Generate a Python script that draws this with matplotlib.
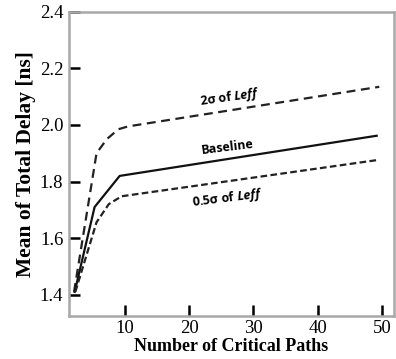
import matplotlib
matplotlib.use('Agg')
import matplotlib.pyplot as plt

# values
paths_base = [2.2, 5.3, 9.2, 49.2]
delay_base = [1.41, 1.71, 1.82, 1.962]

paths_2s = [2.1, 5.6, 7.2, 9.0, 10.5, 49.6]
delay_2s = [1.41, 1.90, 1.95, 1.985, 1.995, 2.135]

paths_05s = [2.3, 5.6, 7.5, 9.5, 49.6]
delay_05s = [1.41, 1.656, 1.72, 1.748, 1.877]

xticks = [10, 20, 30, 40, 50]
yticks = [1.4, 1.6, 1.8, 2.0, 2.2, 2.4]

plt.rcParams['mathtext.fontset'] = 'custom'
plt.rcParams['mathtext.it'] = 'Open Sans:italic:bold'
plt.rcParams['mathtext.rm'] = 'Open Sans:bold'

fig = plt.figure(figsize=(3.96, 3.59), dpi=100)
ax = fig.add_axes([0.174, 0.12, 0.821, 0.847])

ax.plot(paths_2s, delay_2s, color='#222222', lw=1.6, dashes=(4, 2.5))
ax.plot(paths_base, delay_base, color='#111111', lw=1.6)
ax.plot(paths_05s, delay_05s, color='#222222', lw=1.6, dashes=(3, 1.5))

ax.set_xlim(1.3, 51.9)
ax.set_ylim(1.325, 2.4)
ax.set_xticks(xticks)
ax.set_yticks(yticks)
ax.set_xticklabels([str(t) for t in xticks], family='Liberation Serif', fontsize=13.5)
ax.set_yticklabels(['%.1f' % t for t in yticks], family='Liberation Serif', fontsize=13.5)
ax.tick_params(direction='in', length=8, width=1.8, color='black', pad=3)
ax.tick_params(axis='y', pad=4)

for s in ax.spines.values():
    s.set_color('#a8a8a8')
    s.set_linewidth(1.8)

ax.set_xlabel('Number of Critical Paths', family='Liberation Serif',
              fontweight='bold', fontsize=13, labelpad=1)
ax.set_ylabel('Mean of Total Delay [ns]', family='Liberation Serif',
              fontweight='bold', fontsize=15.5, labelpad=3)

lbl = dict(family='Open Sans', fontweight='bold', fontsize=9,
           ha='center', va='center', color='black')
ax.text(26.4, 2.096, r'2σ of $\mathit{Leff}$', rotation=8, **lbl)
ax.text(26.0, 1.922, 'Baseline', rotation=7, **lbl)
ax.text(26.0, 1.742, r'0.5σ of $\mathit{Leff}$', rotation=7, **lbl)

fig.savefig('out.png', dpi=100)
